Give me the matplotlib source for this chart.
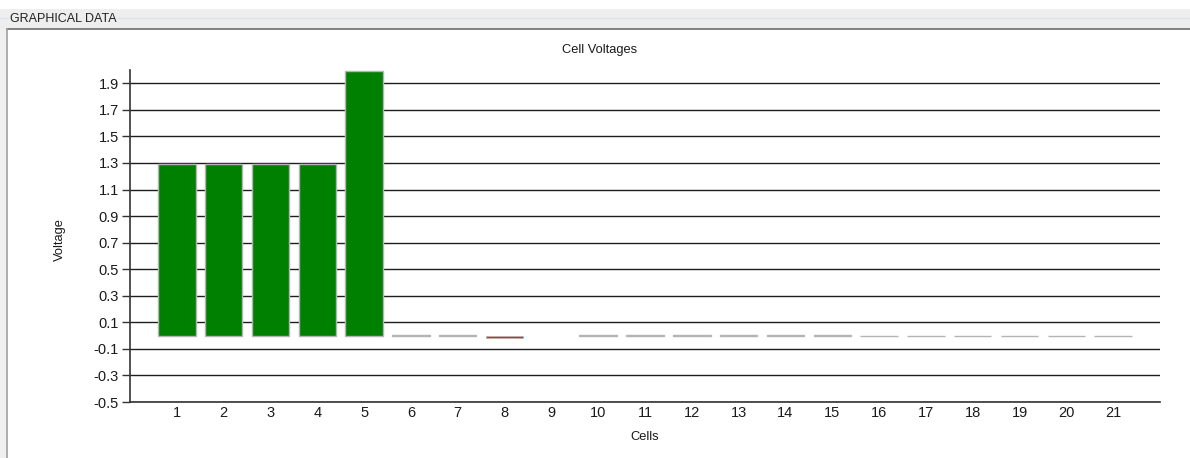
import matplotlib.pyplot as plt
from matplotlib.patches import Rectangle
from matplotlib.lines import Line2D
import numpy as np

plt.rcParams["font.family"] = ["Liberation Sans", "DejaVu Sans"]

# Cell voltages
cells = list(range(1, 22))
voltages = [1.29, 1.29, 1.29, 1.29, 1.99,
            0.008, 0.008, -0.018, np.nan, 0.008,
            0.008, 0.008, 0.008, 0.008, 0.008,
            -0.005, -0.005, -0.005, -0.005, -0.005, -0.005]
y_ticks = [-0.5, -0.3, -0.1, 0.1, 0.3, 0.5, 0.7, 0.9, 1.1, 1.3, 1.5, 1.7, 1.9]

W, H = 1190, 458


def bar_color(v):
    if v < -0.01:
        return "#d42a2a"
    if v > 0.1:
        return "#008000"
    return "#b4b4b4"


fig = plt.figure(figsize=(W / 100, H / 100), dpi=100)
fig.patch.set_facecolor("white")

# group box frame ("GRAPHICAL DATA")
fig.patches.append(Rectangle((0, 1 - 29 / H), 1, 20 / H, transform=fig.transFigure,
                             facecolor="#eeeeee", edgecolor="none", zorder=0))
fig.patches.append(Rectangle((0, 0), 7 / W, 1 - 29 / H, transform=fig.transFigure,
                             facecolor="#f0f0f0", edgecolor="none", zorder=0))
fig.lines.append(Line2D([7 / W, 1], [1 - 29 / H, 1 - 29 / H], transform=fig.transFigure,
                        color="#6e6e6e", lw=1.2))
fig.lines.append(Line2D([7 / W, 7 / W], [0, 1 - 29 / H], transform=fig.transFigure,
                        color="#a0a0a0", lw=1.2))
fig.lines.append(Line2D([0, 1], [1 - 18 / H, 1 - 18 / H], transform=fig.transFigure,
                        color="#dde3ea", lw=1))
fig.text(10 / W, 1 - 19 / H, "GRAPHICAL DATA", fontsize=9, color="#222222",
         va="center", ha="left",
         bbox=dict(facecolor="#eeeeee", edgecolor="none", pad=1))

ax = fig.add_axes([130 / W, 1 - 402 / H, 1030 / W, 332 / H])

# cell 9 has no reading, so it is skipped
for c, v in zip(cells, voltages):
    if np.isnan(v):
        continue
    ax.bar(c, v, width=0.8, color=bar_color(v), edgecolor="#b4b4b4",
           linewidth=0.5 if v < -0.01 else 1, zorder=3)

ax.set_xlim(0, 22)
ax.set_ylim(-0.5, 2.0)
ax.set_xticks(cells)
ax.set_xticklabels([str(c) for c in cells])
ax.set_yticks(y_ticks)
ax.set_yticklabels([f"{t:.1f}" for t in y_ticks])
ax.tick_params(axis="x", length=0, pad=3, labelsize=10.5, labelcolor="#1a1a1a")
ax.tick_params(axis="y", length=6, width=1, pad=2, labelsize=10.5, labelcolor="#1a1a1a",
               color="#333333")

ax.grid(axis="y", color="#1e1e1e", linewidth=1, zorder=1)
ax.set_axisbelow(True)
for side in ["top", "right"]:
    ax.spines[side].set_visible(False)
for side in ["left", "bottom"]:
    ax.spines[side].set_color("#333333")
    ax.spines[side].set_linewidth(1.2)

fig.text(600 / W, 1 - 50 / H, "Cell Voltages", fontsize=9.3, ha="center", va="center",
         color="#1a1a1a")
fig.text(645 / W, 1 - 437 / H, "Cells", fontsize=9.3, ha="center", va="center",
         color="#1a1a1a")
fig.text(60 / W, 1 - 240 / H, "Voltage", fontsize=9.3, ha="center", va="center",
         rotation=90, color="#1a1a1a")

fig.savefig("out.png", dpi=100)
